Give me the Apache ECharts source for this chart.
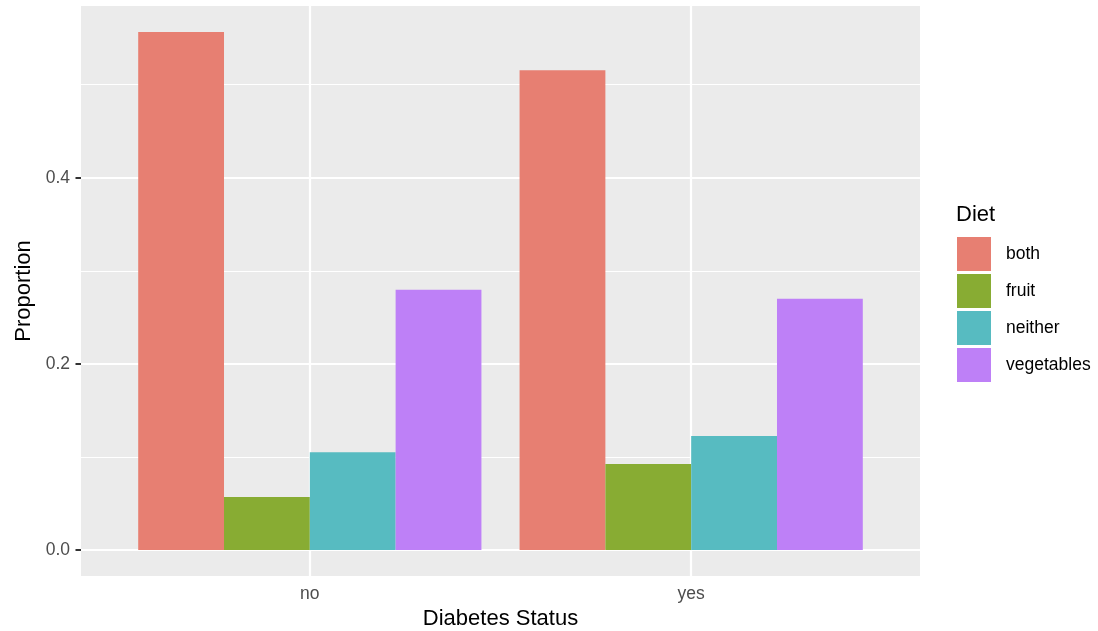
<!DOCTYPE html>
<html>
<head>
<meta charset="utf-8">
<script src="https://cdn.jsdelivr.net/npm/echarts@6/dist/echarts.min.js"></script>
<style>
  html, body { margin: 0; padding: 0; background: #ffffff; }
  #chart { width: 1098px; height: 631px; }
</style>
</head>
<body>
<div id="chart"></div>
<script>
// ---- data ----
const categories = ['no', 'yes'];
const diets = ['both', 'fruit', 'neither', 'vegetables'];
const both = [0.5567, 0.5154];
const fruit = [0.0570, 0.0925];
const neither = [0.1051, 0.1226];
const vegetables = [0.2796, 0.2699];
const yMajorTicks = [0, 0.2, 0.4];
const yMinorTicks = [0.1, 0.3, 0.5];
const yTickLabels = ['0.0', '0.2', '0.4'];

const seriesValues = [both, fruit, neither, vegetables];
const colors = ['#E77F72', '#88AC33', '#57BBC1', '#BE80F7'];

const FONT = '"Liberation Sans", Arial, Helvetica, sans-serif';
const catPos = categories.map((c, i) => i + 1);

// ggplot-like expansion
const allVals = seriesValues.flat();
const yMaxData = Math.max(...allVals), yMinData = 0;
const yPad = (yMaxData - yMinData) * 0.05;

const chart = echarts.init(document.getElementById('chart'), null, { renderer: 'canvas' });

const barSeries = diets.map((d, k) => ({
  name: d,
  type: 'bar',
  data: seriesValues[k].map((v, i) => [catPos[i], v]),
  barWidth: '22.5%',
  barGap: '0%',
  itemStyle: { color: colors[k] },
  emphasis: { disabled: true },
  z: 2
}));

const gridSeries = {
  name: '_grid',
  type: 'line',
  data: [],
  silent: true,
  z: 1,
  markLine: {
    silent: true,
    z: 1,
    symbol: 'none',
    animation: false,
    label: { show: false },
    emphasis: { disabled: true },
    data: [
      ...yMinorTicks.map(v => ({ yAxis: v, lineStyle: { color: '#ffffff', width: 1.1, type: 'solid' } })),
      ...yMajorTicks.map(v => ({ yAxis: v, lineStyle: { color: '#ffffff', width: 2.2, type: 'solid' } })),
      ...catPos.map(v => ({ xAxis: v, lineStyle: { color: '#ffffff', width: 2.2, type: 'solid' } }))
    ]
  }
};

const option = {
  animation: false,
  textStyle: { fontFamily: FONT },
  title: {
    text: 'Diet',
    left: 956,
    top: 204,
    padding: 0,
    textStyle: { fontFamily: FONT, fontSize: 22, fontWeight: 'normal', color: '#000000' }
  },
  legend: {
    data: diets,
    orient: 'vertical',
    left: 957,
    top: 237,
    padding: 0,
    itemWidth: 34,
    itemHeight: 34,
    itemGap: 3,
    icon: 'rect',
    selectedMode: false,
    textStyle: { fontFamily: FONT, fontSize: 17.5, color: '#000000', padding: [0, 0, 0, 10] }
  },
  grid: {
    left: 81,
    right: 178,
    top: 6,
    bottom: 55,
    show: true,
    backgroundColor: '#EBEBEB',
    borderWidth: 0,
    containLabel: false,
    outerBoundsMode: 'none'
  },
  xAxis: {
    type: 'value',
    min: 0.4,
    max: categories.length + 0.6,
    name: 'Diabetes Status',
    nameLocation: 'middle',
    nameGap: 32,
    nameTextStyle: { fontFamily: FONT, fontSize: 22, color: '#000000' },
    axisLine: { show: false },
    axisTick: { show: true, length: 5.5, customValues: catPos, lineStyle: { color: '#333333', width: 2 } },
    axisLabel: {
      show: true,
      customValues: catPos,
      margin: 9,
      fontFamily: FONT,
      fontSize: 17.5,
      color: '#4D4D4D',
      formatter: v => categories[Math.round(v) - 1] || ''
    },
    splitLine: { show: false }
  },
  yAxis: {
    type: 'value',
    min: yMinData - yPad,
    max: yMaxData + yPad,
    name: 'Proportion',
    nameLocation: 'middle',
    nameGap: 42,
    nameTextStyle: { fontFamily: FONT, fontSize: 22, color: '#000000' },
    axisLine: { show: false },
    axisTick: { show: true, length: 5.5, customValues: yMajorTicks, lineStyle: { color: '#333333', width: 2 } },
    axisLabel: {
      show: true,
      customValues: yMajorTicks,
      margin: 11,
      fontFamily: FONT,
      fontSize: 17.5,
      color: '#4D4D4D',
      formatter: v => {
        const i = yMajorTicks.findIndex(t => Math.abs(t - v) < 1e-9);
        return i >= 0 ? yTickLabels[i] : '';
      }
    },
    splitLine: { show: false }
  },
  series: [gridSeries, ...barSeries]
};

chart.setOption(option);
</script>
</body>
</html>
